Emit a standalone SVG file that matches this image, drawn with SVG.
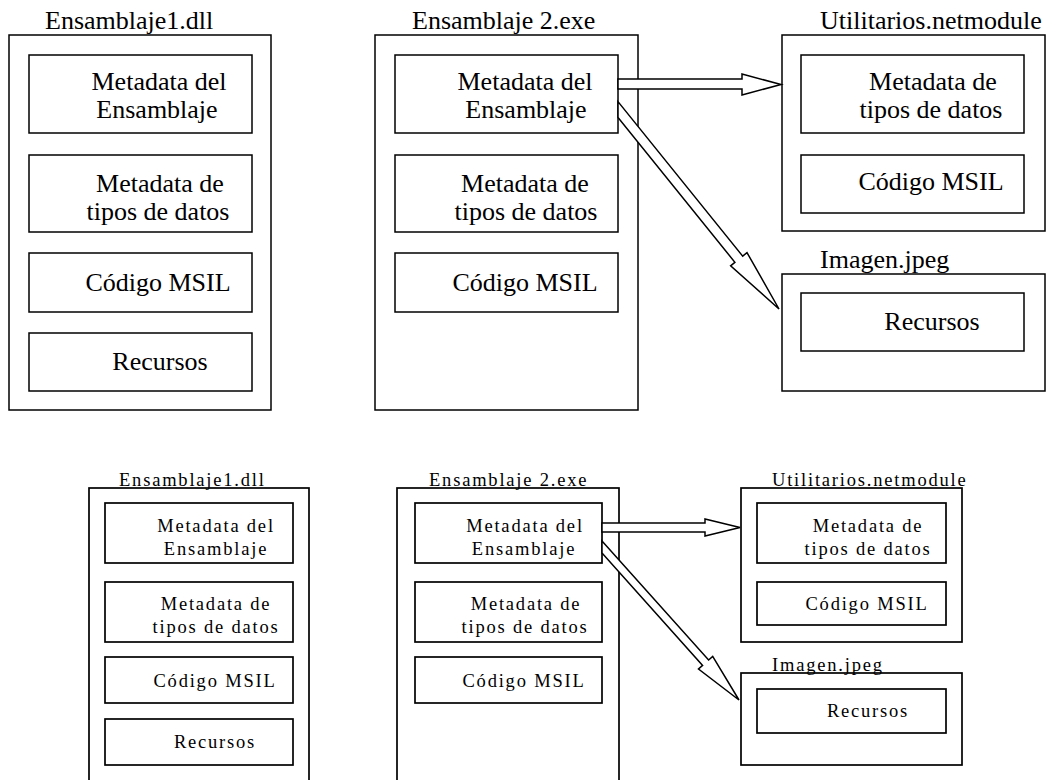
<svg xmlns="http://www.w3.org/2000/svg" width="1049" height="780" viewBox="0 0 1049 780">
<style>
  .box { fill: #fff; stroke: #000; stroke-width: 1.5; }
  .bbox { fill: #fff; stroke: #000; stroke-width: 1.7; }
  .arr { fill: #fff; stroke: #000; stroke-width: 1.5; stroke-linejoin: miter; }
  .t { font-family: "Liberation Serif", "Times New Roman", serif; font-size: 26px; fill: #000; }
  .tm { font-family: "Liberation Serif", "Times New Roman", serif; font-size: 26px; fill: #000; text-anchor: middle; }
  .s { font-family: "Liberation Serif", "Times New Roman", serif; font-size: 18.5px; letter-spacing: 1.8px; fill: #000; }
  .sm { font-family: "Liberation Serif", "Times New Roman", serif; font-size: 18.5px; letter-spacing: 1.8px; fill: #000; text-anchor: middle; }
</style>
<rect width="1049" height="780" fill="#fff"/>

<!-- TOP SECTION -->
<g id="top-ensamblaje1">
  <rect class="box" x="9" y="35" width="262" height="375"/>
  <text class="t" x="45" y="29">Ensamblaje1.dll</text>
  <rect class="box" x="29" y="55" width="223" height="78"/>
  <text class="tm" x="159" y="90">Metadata del</text>
  <text class="tm" x="157" y="118">Ensamblaje</text>
  <rect class="box" x="29" y="155" width="223" height="77"/>
  <text class="tm" x="160" y="192">Metadata de</text>
  <text class="tm" x="158" y="220">tipos de datos</text>
  <rect class="box" x="29" y="253" width="223" height="59"/>
  <text class="tm" x="158" y="291">Código MSIL</text>
  <rect class="box" x="29" y="333" width="223" height="58"/>
  <text class="tm" x="160" y="370">Recursos</text>
</g>

<g id="top-ensamblaje2">
  <rect class="box" x="375" y="35" width="263" height="375"/>
  <text class="t" x="412" y="29">Ensamblaje 2.exe</text>
  <rect class="box" x="395" y="55" width="223" height="78"/>
  <text class="tm" x="525" y="90">Metadata del</text>
  <text class="tm" x="526" y="118">Ensamblaje</text>
  <rect class="box" x="395" y="155" width="223" height="77"/>
  <text class="tm" x="525" y="192">Metadata de</text>
  <text class="tm" x="526" y="220">tipos de datos</text>
  <rect class="box" x="395" y="253" width="223" height="59"/>
  <text class="tm" x="525" y="291">Código MSIL</text>
</g>

<g id="top-utilitarios">
  <rect class="box" x="782" y="35" width="263" height="196"/>
  <text class="t" x="820" y="29">Utilitarios.netmodule</text>
  <rect class="box" x="801" y="55" width="223" height="78"/>
  <text class="tm" x="933" y="90">Metadata de</text>
  <text class="tm" x="931" y="118">tipos de datos</text>
  <rect class="box" x="801" y="155" width="223" height="58"/>
  <text class="tm" x="931" y="190">Código MSIL</text>
</g>

<g id="top-imagen">
  <rect class="box" x="782" y="274" width="263" height="117"/>
  <rect class="box" x="801" y="293" width="223" height="58"/>
  <text class="tm" x="932" y="330">Recursos</text>
  <text class="t" x="820" y="268">Imagen.jpeg</text>
</g>

<!-- BOTTOM SECTION -->
<g id="bottom-ensamblaje1">
  <rect class="bbox" x="89" y="488" width="220" height="310"/>
  <text class="s" x="119" y="486">Ensamblaje1.dll</text>
  <rect class="bbox" x="105" y="503" width="188" height="60"/>
  <text class="sm" x="216" y="532">Metadata del</text>
  <text class="sm" x="216" y="555">Ensamblaje</text>
  <rect class="bbox" x="105" y="582" width="188" height="60"/>
  <text class="sm" x="216" y="610">Metadata de</text>
  <text class="sm" x="216" y="633">tipos de datos</text>
  <rect class="bbox" x="105" y="657" width="188" height="46"/>
  <text class="sm" x="215" y="687">Código MSIL</text>
  <rect class="bbox" x="105" y="719" width="188" height="46"/>
  <text class="sm" x="215" y="748">Recursos</text>
</g>

<g id="bottom-ensamblaje2">
  <rect class="bbox" x="397" y="488" width="222" height="310"/>
  <text class="s" x="429" y="486">Ensamblaje 2.exe</text>
  <rect class="bbox" x="415" y="503" width="187" height="60"/>
  <text class="sm" x="525" y="532">Metadata del</text>
  <text class="sm" x="524" y="555">Ensamblaje</text>
  <rect class="bbox" x="415" y="582" width="187" height="60"/>
  <text class="sm" x="526" y="610">Metadata de</text>
  <text class="sm" x="525" y="633">tipos de datos</text>
  <rect class="bbox" x="415" y="657" width="187" height="46"/>
  <text class="sm" x="524" y="687">Código MSIL</text>
</g>

<g id="bottom-utilitarios">
  <rect class="bbox" x="741" y="488" width="221" height="154"/>
  <text class="s" x="772" y="486">Utilitarios.netmodule</text>
  <rect class="bbox" x="757" y="503" width="189" height="60"/>
  <text class="sm" x="868" y="532">Metadata de</text>
  <text class="sm" x="868" y="555">tipos de datos</text>
  <rect class="bbox" x="757" y="582" width="189" height="43"/>
  <text class="sm" x="867" y="610">Código MSIL</text>
</g>

<g id="bottom-imagen">
  <rect class="bbox" x="741" y="673" width="221" height="92"/>
  <rect class="bbox" x="757" y="689" width="189" height="44"/>
  <text class="sm" x="868" y="717">Recursos</text>
  <text class="s" x="772" y="671">Imagen.jpeg</text>
</g>

<!-- CONNECTORS -->
<g id="connectors">
  <polygon class="arr" points="618,79 742,79 742,74 781,84.5 742,95 742,89 618,89"/>
  <polygon class="arr" points="618,101.6 742.7,256.1 747,252.6 779,309 730.6,265.8 734.9,262.3 618,117.4"/>
  <polygon class="arr" points="602,523 705,523 705,519 740,527.5 705,536 705,532 602,532"/>
  <polygon class="arr" points="602,541 708.6,660 712.7,656.4 739,700 698.5,669 702.6,665.4 602,553"/>
</g>
</svg>
